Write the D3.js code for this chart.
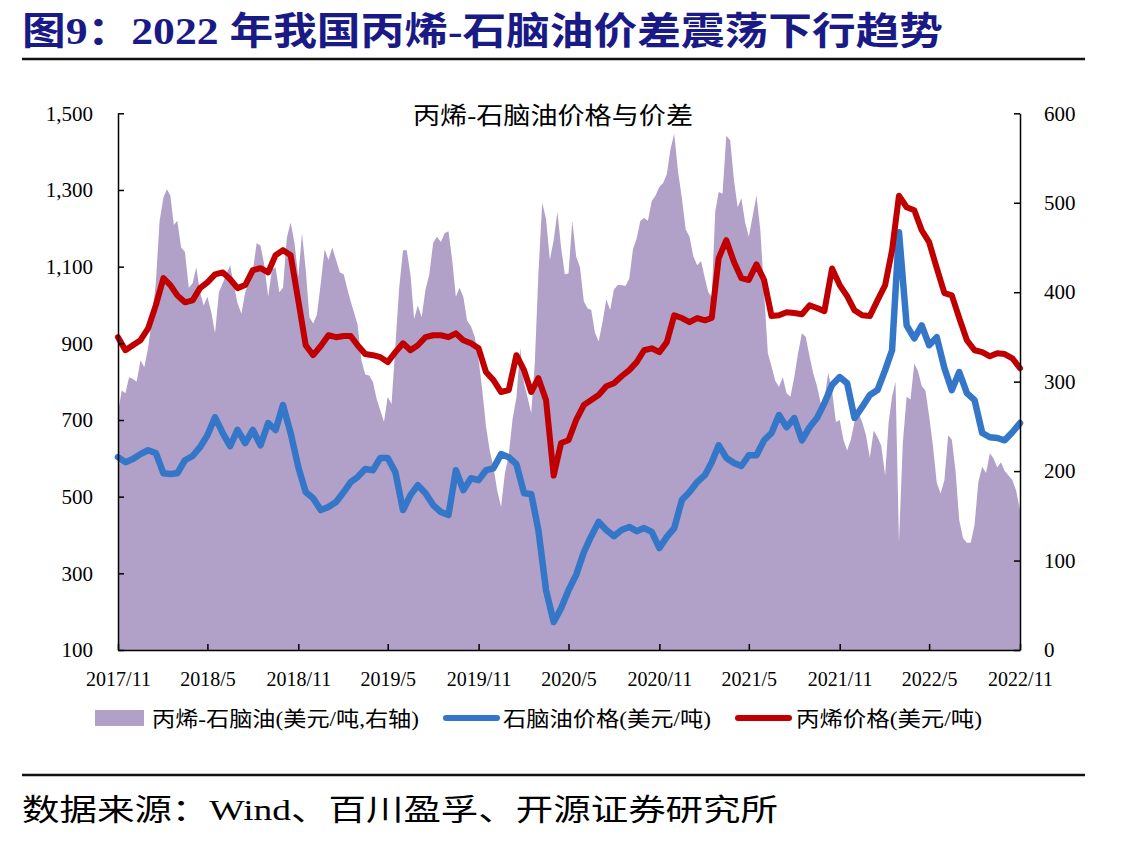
<!DOCTYPE html>
<html>
<head>
<meta charset="utf-8">
<script src="https://cdn.jsdelivr.net/npm/d3@7"></script>
<style>
  body { margin: 0; background: #fff; }
</style>
</head>
<body>
<svg id="chart" width="1137" height="843"></svg>
<script>
// series start month; lines are sampled twice a month, the spread four times a month
const startMonth = new Date(2017, 10, 1);
const monthsShown = 60;

// 丙烯价格 (USD/t), every half month from 2017/11
const propylene = [
    916, 882, 895, 908, 939, 999, 1070, 1052, 1025, 1007, 1012, 1044,
    1059, 1080, 1085, 1067, 1044, 1052, 1091, 1096, 1085, 1130, 1143, 1130,
    1012, 895, 869, 893, 921, 916, 919, 919, 895, 872, 869, 864,
    851, 877, 900, 882, 895, 916, 921, 921, 916, 926, 908, 900,
    887, 825, 804, 773, 778, 869, 830, 773, 809, 752, 555, 640,
    647, 700, 739, 752, 765, 788, 796, 814, 830, 851, 882, 887,
    877, 903, 973, 966, 955, 966, 960, 966, 1122, 1169, 1112, 1070,
    1065, 1106, 1065, 971, 973, 981, 979, 976, 999, 992, 984, 1095,
    1052, 1023, 986, 973, 971, 1012, 1052, 1143, 1285, 1255, 1247, 1195,
    1164, 1096, 1031, 1025, 966, 908, 882, 877, 866, 874, 872, 861,
    835
];

// 石脑油价格 (USD/t), every half month from 2017/11
const naphtha = [
    603, 590, 598, 611, 621, 614, 561, 559, 561, 595, 606, 629,
    660, 707, 666, 632, 674, 640, 674, 634, 692, 674, 739, 666,
    577, 512, 496, 465, 473, 486, 512, 538, 551, 572, 569, 601,
    601, 564, 465, 504, 530, 509, 478, 460, 452, 569, 517, 548,
    543, 569, 574, 611, 603, 585, 509, 507, 413, 256, 173, 209,
    256, 296, 355, 397, 434, 413, 397, 413, 421, 410, 418, 408,
    366, 395, 418, 491, 512, 538, 556, 590, 634, 601, 588, 580,
    608, 608, 647, 666, 713, 681, 705, 647, 681, 705, 744, 791,
    812, 796, 705, 734, 765, 778, 830, 882, 1190, 947, 913, 947,
    895, 916, 835, 778, 825, 770, 752, 666, 655, 653, 647, 668,
    692
];

// 丙烯-石脑油价差 (USD/t, right axis), every quarter month from 2017/11
const spread = [
    265, 290, 287, 305, 303, 300, 324, 316, 338, 370, 410, 480, 506, 515, 508, 475, 480, 450, 445, 405, 410, 428, 400, 385,
    395, 378, 354, 400, 410, 420, 430, 408, 388, 376, 400, 412, 424, 455, 452, 430, 395, 425, 428, 400, 405, 461, 478, 455,
    417, 466, 425, 372, 365, 375, 410, 448, 436, 450, 436, 422, 420, 404, 390, 377, 364, 324, 308, 307, 300, 281, 268, 255,
    283, 275, 340, 405, 447, 447, 420, 370, 385, 372, 403, 420, 455, 462, 456, 466, 468, 436, 395, 405, 395, 368, 362, 350,
    325, 290, 250, 223, 205, 178, 160, 198, 218, 258, 282, 338, 298, 282, 265, 320, 420, 500, 482, 436, 458, 490, 450, 420,
    421, 480, 440, 428, 390, 382, 380, 355, 345, 366, 392, 380, 403, 408, 408, 407, 415, 448, 460, 480, 483, 480, 502, 508,
    518, 522, 532, 560, 577, 535, 505, 470, 462, 440, 430, 435, 416, 400, 395, 490, 512, 510, 575, 570, 525, 495, 505, 478,
    462, 485, 508, 470, 400, 332, 317, 301, 294, 305, 287, 283, 305, 332, 354, 350, 328, 309, 295, 276, 280, 310, 290, 255,
    257, 235, 223, 235, 255, 265, 255, 240, 215, 245, 238, 228, 195, 254, 283, 300, 120, 231, 283, 280, 320, 312, 295, 290,
    262, 228, 187, 175, 190, 240, 235, 200, 145, 125, 120, 120, 140, 188, 205, 198, 220, 214, 204, 210, 200, 195, 190, 178,
    156
];

const leftTicks = [100, 300, 500, 700, 900, 1100, 1300, 1500];
const rightTicks = [0, 100, 200, 300, 400, 500, 600];
const xTickMonths = [0, 6, 12, 18, 24, 30, 36, 42, 48, 54, 60];

const seriesNames = ["丙烯-石脑油(美元/吨,右轴)", "石脑油价格(美元/吨)", "丙烯价格(美元/吨)"];
const figTitle = "图9：2022 年我国丙烯-石脑油价差震荡下行趋势";
const chartTitle = "丙烯-石脑油价格与价差";
const sourceNote = "数据来源：Wind、百川盈孚、开源证券研究所";

const FONT = '"Liberation Serif", "Noto Sans CJK SC", serif';
const PURPLE = "#b1a0c7", BLUE = "#3476c8", RED = "#c00000";

const svg = d3.select("#chart");

// fractional month -> date
function monthToDate(m) {
    let whole = Math.floor(m);
    let a = d3.timeMonth.offset(startMonth, whole);
    let b = d3.timeMonth.offset(startMonth, whole + 1);
    return new Date(+a + (m - whole) * (b - a));
}

let plot = { left: 118, right: 1020, top: 113.3, bottom: 650 };

let x = d3.scaleTime()
    .domain([startMonth, d3.timeMonth.offset(startMonth, monthsShown)])
    .range([plot.left, plot.right]);
let yL = d3.scaleLinear().domain([100, 1500]).range([plot.bottom, plot.top]);
let yR = d3.scaleLinear().domain([0, 600]).range([plot.bottom, plot.top]);

let spreadData = spread.map((v, i) => ({ date: monthToDate(i / 4), val: v }));
let propData = propylene.map((v, i) => ({ date: monthToDate(i / 2), val: v }));
let naphData = naphtha.map((v, i) => ({ date: monthToDate(i / 2), val: v }));

// header
svg.append("text")
    .attr("x", 22).attr("y", 44)
    .attr("font-family", FONT)
    .attr("font-size", 38)
    .attr("font-weight", "bold")
    .attr("fill", "#1a1a86")
    .attr("textLength", 921)
    .attr("lengthAdjust", "spacingAndGlyphs")
    .text(figTitle);

svg.append("line")
    .attr("x1", 22).attr("x2", 1085)
    .attr("y1", 59).attr("y2", 59)
    .attr("stroke", "#111").attr("stroke-width", 2.5);

// spread area
svg.append("path")
    .datum(spreadData)
    .attr("fill", PURPLE)
    .attr("d", d3.area()
        .x(d => x(d.date))
        .y0(yR(0))
        .y1(d => yR(d.val)));

let lineL = d3.line().x(d => x(d.date)).y(d => yL(d.val));

svg.append("path")
    .datum(naphData)
    .attr("fill", "none")
    .attr("stroke", BLUE)
    .attr("stroke-width", 6.5)
    .attr("stroke-linejoin", "round")
    .attr("stroke-linecap", "round")
    .attr("d", lineL);

svg.append("path")
    .datum(propData)
    .attr("fill", "none")
    .attr("stroke", RED)
    .attr("stroke-width", 6)
    .attr("stroke-linejoin", "round")
    .attr("stroke-linecap", "round")
    .attr("d", lineL);

// axes
let leftAxis = svg.append("g")
    .attr("transform", `translate(${plot.left},0)`)
    .call(d3.axisLeft(yL).tickValues(leftTicks).tickFormat(d3.format(","))
        .tickSize(-6).tickSizeOuter(0).tickPadding(25));

let rightAxis = svg.append("g")
    .attr("transform", `translate(${plot.right},0)`)
    .call(d3.axisRight(yR).tickValues(rightTicks)
        .tickSize(-6).tickSizeOuter(0).tickPadding(24));

let bottomAxis = svg.append("g")
    .attr("transform", `translate(0,${plot.bottom})`)
    .call(d3.axisBottom(x).tickValues(xTickMonths.map(m => d3.timeMonth.offset(startMonth, m)))
        .tickFormat(d3.timeFormat("%Y/%-m"))
        .tickSize(-6).tickSizeOuter(0).tickPadding(22));

[leftAxis, rightAxis, bottomAxis].forEach(g => {
    g.select(".domain").attr("stroke", "#000").attr("stroke-width", 1.5);
    g.selectAll(".tick line").attr("stroke", "#000").attr("stroke-width", 1.5);
    g.selectAll("text").attr("font-family", FONT).attr("fill", "#000");
});
leftAxis.selectAll("text").attr("font-size", 21);
rightAxis.selectAll("text").attr("font-size", 21);
bottomAxis.selectAll("text").attr("font-size", 20);

// chart title
svg.append("text")
    .attr("x", 553).attr("y", 124)
    .attr("text-anchor", "middle")
    .attr("font-family", FONT)
    .attr("font-size", 24)
    .attr("textLength", 280)
    .attr("lengthAdjust", "spacingAndGlyphs")
    .text(chartTitle);

// legend
let legend = svg.append("g").attr("font-family", FONT).attr("font-size", 21);
legend.append("rect")
    .attr("x", 95).attr("y", 710).attr("width", 49).attr("height", 16)
    .attr("fill", PURPLE);
legend.append("text").attr("x", 152).attr("y", 726)
    .attr("textLength", 267).attr("lengthAdjust", "spacingAndGlyphs")
    .text(seriesNames[0]);

legend.append("line")
    .attr("x1", 446).attr("x2", 497).attr("y1", 718).attr("y2", 718)
    .attr("stroke", BLUE).attr("stroke-width", 6).attr("stroke-linecap", "round");
legend.append("text").attr("x", 503).attr("y", 726)
    .attr("textLength", 208).attr("lengthAdjust", "spacingAndGlyphs")
    .text(seriesNames[1]);

legend.append("line")
    .attr("x1", 738).attr("x2", 789).attr("y1", 718).attr("y2", 718)
    .attr("stroke", RED).attr("stroke-width", 6).attr("stroke-linecap", "round");
legend.append("text").attr("x", 796).attr("y", 726)
    .attr("textLength", 186).attr("lengthAdjust", "spacingAndGlyphs")
    .text(seriesNames[2]);

// footer
svg.append("line")
    .attr("x1", 22).attr("x2", 1085)
    .attr("y1", 775).attr("y2", 775)
    .attr("stroke", "#111").attr("stroke-width", 2.5);

svg.append("text")
    .attr("x", 22).attr("y", 820)
    .attr("font-family", FONT)
    .attr("font-size", 30)
    .attr("textLength", 756)
    .attr("lengthAdjust", "spacingAndGlyphs")
    .text(sourceNote);
</script>
</body>
</html>
